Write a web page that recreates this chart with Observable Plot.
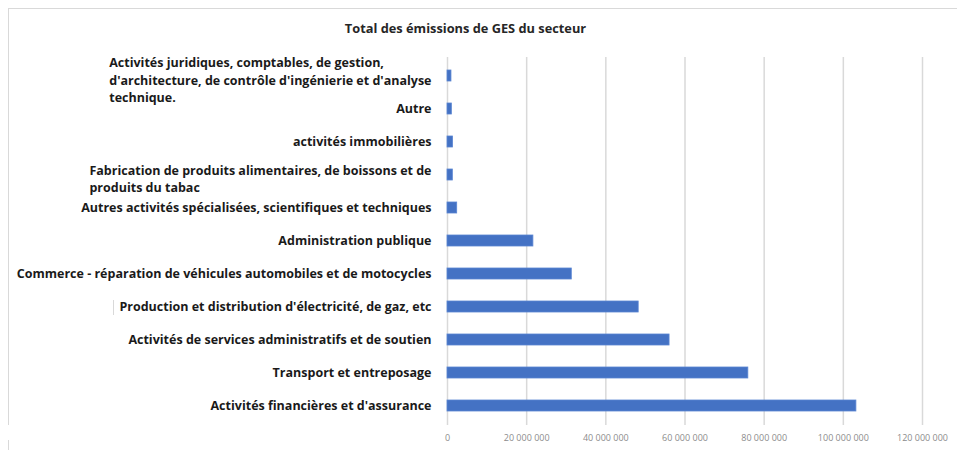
<!DOCTYPE html>
<html><head><meta charset="utf-8">
<script src="https://cdn.jsdelivr.net/npm/d3@7"></script>
<script src="https://cdn.jsdelivr.net/npm/@observablehq/plot@0.6"></script>
<style>
body{margin:0;background:#fff;}
#wrap{position:relative;width:957px;height:450px;overflow:hidden;background:#fff;font-family:"Open Sans",sans-serif;}
#title{position:absolute;left:0;width:931px;top:19px;text-align:center;font-weight:bold;font-size:12.8px;color:#262626;}
.bt{position:absolute;left:8px;top:8px;right:0;height:0;border-top:1.5px solid #d9d9d9;}
.bl1{position:absolute;left:8px;top:8px;height:417px;border-left:1.5px solid #d9d9d9;}
.bl2{position:absolute;left:8px;top:440px;height:10px;border-left:1.5px solid #d9d9d9;}
.bl3{position:absolute;left:113px;top:300px;height:15px;border-left:1px solid #d9d9d9;}
#chart{position:absolute;left:0;top:0;}
</style></head><body>
<div id="wrap"><div class="bt"></div><div class="bl1"></div><div class="bl2"></div><div class="bl3"></div><div id="chart"></div><div id="title"></div></div>
<script>
const title = "Total des émissions de GES du secteur";
const categories = [
  "Activités juridiques, comptables, de gestion,\nd'architecture, de contrôle d'ingénierie et d'analyse\ntechnique.",
  "Autre",
  "activités immobilières",
  "Fabrication de produits alimentaires, de boissons et de\nproduits du tabac",
  "Autres activités spécialisées, scientifiques et techniques",
  "Administration publique",
  "Commerce - réparation de véhicules automobiles et de motocycles",
  "Production et distribution d'électricité, de gaz, etc",
  "Activités de services administratifs et de soutien",
  "Transport et entreposage",
  "Activités financières et d'assurance"
];
const values = [1.0e6, 1.1e6, 1.4e6, 1.35e6, 2.45e6, 21.7e6, 31.4e6, 48.3e6, 56.1e6, 76.0e6, 103.3e6];
const xTicks = [0, 20e6, 40e6, 60e6, 80e6, 100e6, 120e6];

document.getElementById("title").textContent = title;
const data = categories.map((c, i) => ({category: c, value: values[i]}));
const fmt = d3.formatLocale({decimal: ",", thousands: "\u00a0", grouping: [3], currency: ["", " €"]}).format(",");
const single = data.filter(d => !d.category.includes("\n"));
const multi = data.filter(d => d.category.includes("\n"));

const chart = Plot.plot({
  width: 957,
  height: 450,
  marginLeft: 447,
  marginRight: 35,
  marginTop: 57,
  marginBottom: 25,
  style: {background: "transparent", fontFamily: "'Open Sans', sans-serif"},
  x: {domain: [0, 120e6], ticks: xTicks, tickFormat: fmt, label: null, grid: false},
  y: {domain: categories, paddingInner: 0.66, paddingOuter: 0.33, label: null, axis: null},
  marks: [
    Plot.ruleX(xTicks, {stroke: "#d9d9d9", strokeWidth: 1.5}),
    Plot.axisX({ticks: xTicks, tickFormat: fmt, tickSize: 0, tickPadding: 9, fontSize: 9, color: "#8c8c8c", label: null}),
    Plot.barX(data, {x: "value", y: "category", fill: "#4472c4", stroke: "#5b86d3", strokeWidth: 0.8}),
    Plot.text(single, {x: 0, y: "category", text: "category", textAnchor: "end", dx: -16, fontSize: 12.5, fontWeight: "bold", fill: "#1a1a1a"}),
    Plot.text(multi, {x: 0, y: "category", text: "category", textAnchor: "end", dx: -16, dy: 3, lineHeight: 1.38, fontSize: 12.5, fontWeight: "bold", fill: "#1a1a1a", className: "multi"})
  ]
});
document.getElementById("chart").append(chart);

// left-align the lines of wrapped labels within their block, as in the reference
chart.querySelectorAll(".multi text").forEach(t => {
  const spans = t.querySelectorAll("tspan");
  let w = 0;
  spans.forEach(s => { w = Math.max(w, s.getComputedTextLength()); });
  t.setAttribute("text-anchor", "start");
  spans.forEach(s => s.setAttribute("x", -w));
});
</script>
</body></html>
